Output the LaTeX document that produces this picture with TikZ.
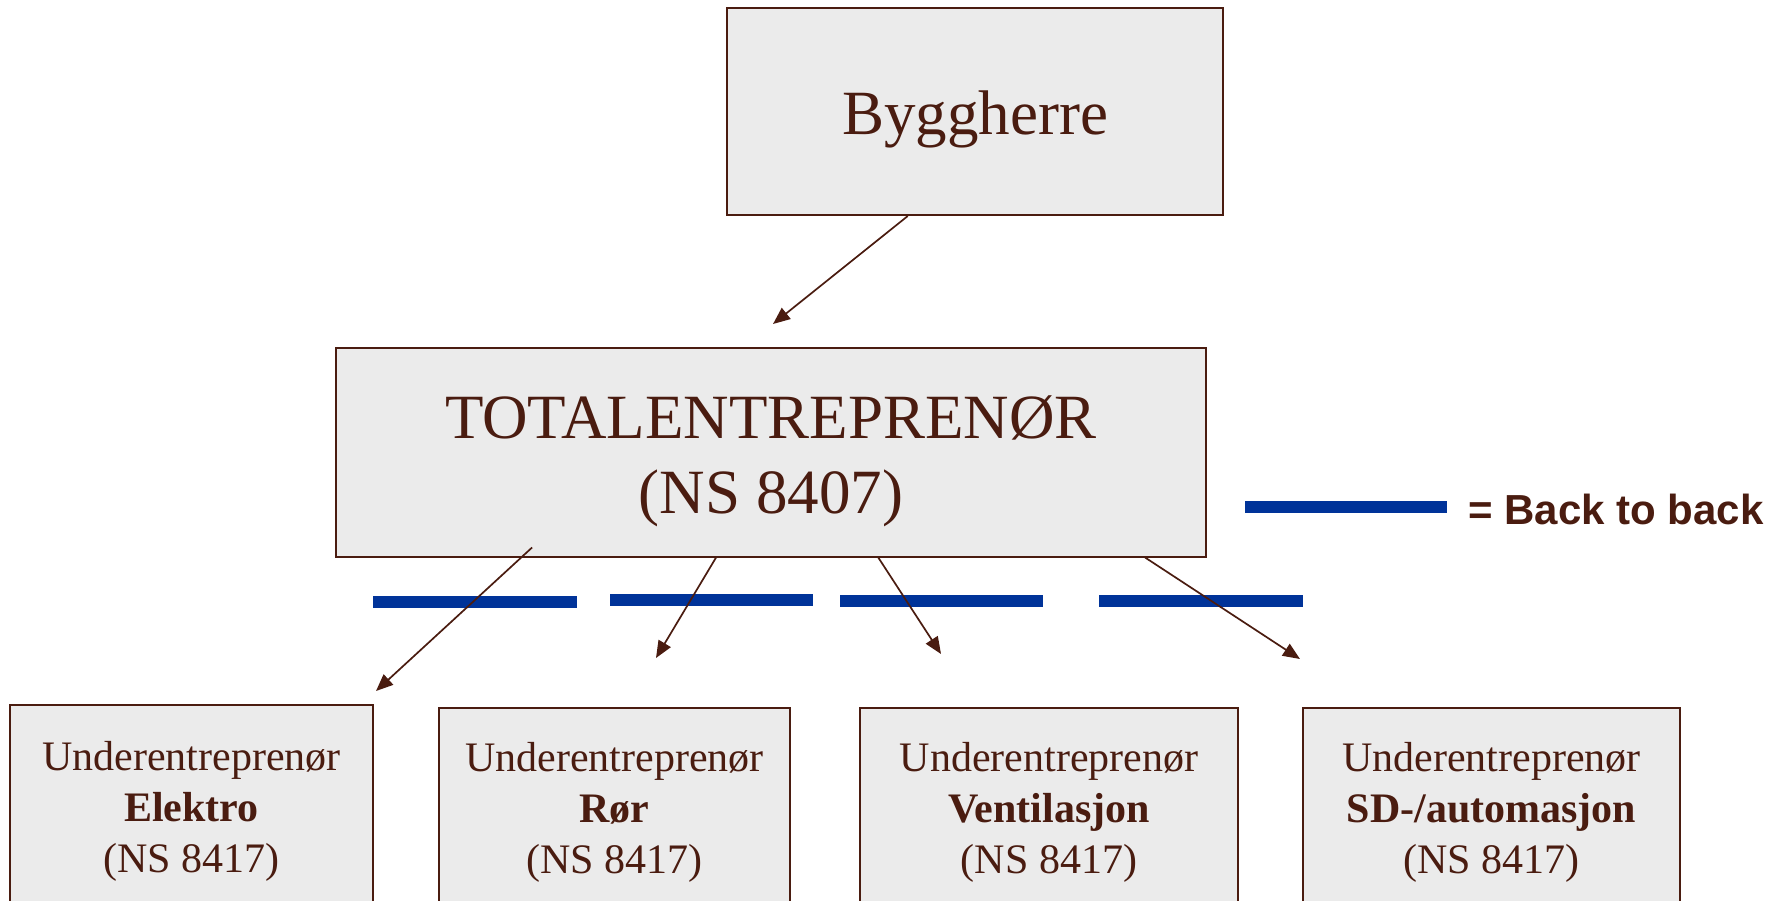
\documentclass[tikz,border=0pt]{standalone}
\usepackage{fontspec}
\setmainfont{Liberation Serif}
\newfontfamily\legendfont{Liberation Sans}
\usetikzlibrary{arrows.meta,calc}
\definecolor{brn}{HTML}{4A1C10}
\definecolor{boxfill}{HTML}{EBEBEB}
\definecolor{btb}{HTML}{003399}
\begin{document}
\begin{tikzpicture}[x=1pt,y=-1pt,
  box/.style={draw=brn, line width=2pt, fill=boxfill, inner sep=0pt},
  boxtext/.style={text=brn, align=center, inner sep=0pt},
  bigtext/.style={boxtext, font=\fontsize{63}{75}\selectfont},
  smalltext/.style={boxtext, font=\fontsize{42}{51}\selectfont},
  link/.style={draw=brn, line width=1.7pt, -{Triangle[length=17pt,width=14pt]}},
  btbbar/.style={draw=btb, line width=12pt}]
\useasboundingbox (0,0) rectangle (1787,900);
\clip (0,0) rectangle (1787,900);

% boxes
\node[box, minimum width=496pt, minimum height=207pt] (byg) at (975,111.5) {};
\node[bigtext, yshift=-8pt] (bygt) at (byg.center) {Byggherre};
\node[box, minimum width=870pt, minimum height=209pt] (tot) at (771,452) {};
\node[bigtext, yshift=-9pt] (tott) at (tot.center) {TOTALENTREPRENØR\\(NS 8407)};
\node[box, minimum width=363pt, minimum height=206pt] (b1) at (191.5,808) {};
\node[smalltext, yshift=-3pt] (b1t) at (b1.center) {Underentreprenør\\\textbf{Elektro}\\(NS 8417)};
\node[box, minimum width=351pt, minimum height=206pt] (b2) at (614.5,811) {};
\node[smalltext, yshift=-1pt] (b2t) at (b2.center) {Underentreprenør\\\textbf{Rør}\\(NS 8417)};
\node[box, minimum width=378pt, minimum height=206pt] (b3) at (1049,811) {};
\node[smalltext, yshift=-1pt] (b3t) at (b3.center) {Underentreprenør\\\textbf{Ventilasjon}\\(NS 8417)};
\node[box, minimum width=377pt, minimum height=206pt] (b4) at (1491.5,811) {};
\node[smalltext, yshift=-1pt] (b4t) at (b4.center) {Underentreprenør\\\textbf{SD-/automasjon}\\(NS 8417)};

% back-to-back bars
\draw[btbbar] (373,602) -- (577,602);
\draw[btbbar] (610,599.5) -- (813,599.5);
\draw[btbbar] (840,600.5) -- (1043,600.5);
\draw[btbbar] (1099,600.5) -- (1303,600.5);

% legend
\draw[btbbar] (1245,507) -- (1447,507);
\node[anchor=west, inner sep=0pt, text=brn, font=\legendfont\bfseries\fontsize{42}{50}\selectfont] (legend) at (1468,509) {= Back to back};

% arrow tips
\coordinate (t0) at (773,324);
\coordinate (t1) at (376,691);
\coordinate (t2) at (656,658);
\coordinate (t3) at (941,654);
\coordinate (t4) at (1300,659);

% connectors
\draw[link] ($(byg.south west)!0.365!(byg.south east)$) -- (t0);
\draw[link] ($(tot.south west)!0.226!(tot.south east)+(0,-10)$) -- (t1);
\draw[link] ($(tot.south west)!0.437!(tot.south east)$) -- (t2);
\draw[link] ($(tot.south west)!0.623!(tot.south east)$) -- (t3);
\draw[link] ($(tot.south west)!0.929!(tot.south east)$) -- (t4);
\end{tikzpicture}
\end{document}
